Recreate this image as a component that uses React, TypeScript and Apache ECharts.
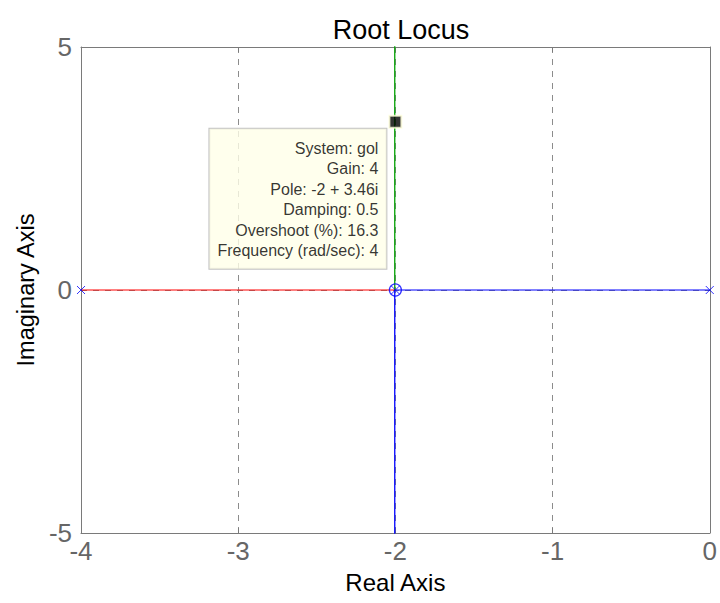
import React, { useEffect, useRef } from "react";
import * as echarts from "echarts";

const xTicks = [-4, -3, -2, -1, 0];
const yTicks = [-5, 0, 5];
const openLoopPoles = [[-4, 0], [0, 0]];
const breakPoint = [[-2, 0]];
const branchRed = [[-4, 0], [-2, 0]];
const branchBlueReal = [[0, 0], [-2, 0]];
const branchGreenUp = [[-2.004, 0], [-2.004, 5.6]];
const branchBlueDown = [[-2.004, 0], [-2.004, -5.6]];
const dataTip = [[-2, 3.46]];
const tipLines = [
  "System: gol",
  "Gain: 4",
  "Pole: -2 + 3.46i",
  "Damping: 0.5",
  "Overshoot (%): 16.3",
  "Frequency (rad/sec): 4",
];

const FONT = "'Liberation Sans', Arial, sans-serif";
const AXIS_COLOR = "#7a7a7a";

export default function App() {
  const ref = useRef<HTMLDivElement>(null);
  useEffect(() => {
    if (!ref.current) return;
    const chart = echarts.init(ref.current, undefined, { renderer: "svg" });
    const xBase = {
      type: "value",
      min: xTicks[0],
      max: xTicks[xTicks.length - 1],
      interval: 1,
      axisLine: { show: true, onZero: false, lineStyle: { color: AXIS_COLOR, width: 1 } },
      axisTick: { show: true, inside: true, length: 5, lineStyle: { color: AXIS_COLOR } },
    };
    const yBase = {
      type: "value",
      min: yTicks[0],
      max: yTicks[yTicks.length - 1],
      interval: 5,
      axisLine: { show: true, onZero: false, lineStyle: { color: AXIS_COLOR, width: 1 } },
      axisTick: { show: true, inside: true, length: 5, lineStyle: { color: AXIS_COLOR } },
    };
    const lineSeries = (data: number[][], color: string, width = 1, z = 2) => ({
      type: "line",
      data,
      xAxisIndex: 0,
      yAxisIndex: 0,
      symbol: "none",
      lineStyle: { color, width },
      z,
      silent: true,
      clip: true,
    });
    chart.setOption({
      animation: false,
      textStyle: { fontFamily: FONT },
      title: {
        text: "Root Locus",
        left: 396,
        textAlign: "center",
        top: 11,
        textStyle: { fontFamily: FONT, fontSize: 27, fontWeight: "normal", color: "#000" },
      },
      grid: { left: 81, right: 7, top: 47, bottom: 70, containLabel: false },
      xAxis: [
        {
          ...xBase,
          position: "bottom",
          name: "Real Axis",
          nameLocation: "middle",
          nameGap: 37,
          nameTextStyle: { fontFamily: FONT, fontSize: 24, color: "#000" },
          axisLabel: { fontFamily: FONT, fontSize: 26, color: "#666", margin: 5 },
          splitLine: { show: true, lineStyle: { color: "#8c8c8c", type: [6, 6], width: 1 } },
        },
        {
          ...xBase,
          position: "top",
          axisLabel: { show: false },
          splitLine: { show: false },
        },
      ],
      yAxis: [
        {
          ...yBase,
          position: "left",
          name: "Imaginary Axis",
          nameLocation: "middle",
          nameGap: 42,
          nameTextStyle: { fontFamily: FONT, fontSize: 23.5, color: "#000" },
          axisLabel: { fontFamily: FONT, fontSize: 26, color: "#666", margin: 9 },
          splitLine: { show: true, lineStyle: { color: "#8c8c8c", type: [6, 6], width: 1 } },
        },
        {
          ...yBase,
          position: "right",
          axisLabel: { show: false },
          splitLine: { show: false },
        },
      ],
      series: [
        lineSeries(branchRed, "#ff0000"),
        lineSeries(branchBlueReal, "#0000ff"),
        lineSeries(branchGreenUp, "#00a000", 1.3),
        lineSeries(branchBlueDown, "#0000ff", 1.3),
        {
          type: "scatter",
          data: openLoopPoles,
          symbol: "path://M0 0L10 10M10 0L0 10",
          symbolSize: 8,
          itemStyle: { color: "none", borderColor: "#0000ff", borderWidth: 1 },
          z: 5,
          silent: true,
        },
        {
          type: "scatter",
          data: breakPoint,
          symbol: "path://M0 0L10 10M10 0L0 10",
          symbolSize: 8,
          itemStyle: { color: "none", borderColor: "#0000ff", borderWidth: 1 },
          z: 5,
          silent: true,
        },
        {
          type: "scatter",
          data: breakPoint,
          symbol: "circle",
          symbolSize: 12,
          itemStyle: { color: "none", borderColor: "#0000ff", borderWidth: 1.3 },
          z: 5,
          silent: true,
        },
        {
          type: "scatter",
          data: dataTip,
          symbol: "rect",
          symbolSize: 12,
          itemStyle: { color: "#000", borderColor: "#ffffdc", borderWidth: 2 },
          z: 10,
          silent: true,
          label: {
            show: true,
            position: [-2, 14],
            align: "right",
            verticalAlign: "top",
            formatter: () => tipLines.join("\n"),
            fontFamily: FONT,
            fontSize: 16,
            lineHeight: 20.5,
            color: "#000",
            backgroundColor: "#ffffe8",
            borderColor: "#b4b4b4",
            borderWidth: 1,
            padding: [9, 8, 8, 8],
          },
        },
      ],
    });
    return () => chart.dispose();
  }, []);
  return (
    <div
      ref={ref}
      style={{ position: "fixed", left: 0, top: 0, width: 720, height: 603, background: "#fff" }}
    />
  );
}
